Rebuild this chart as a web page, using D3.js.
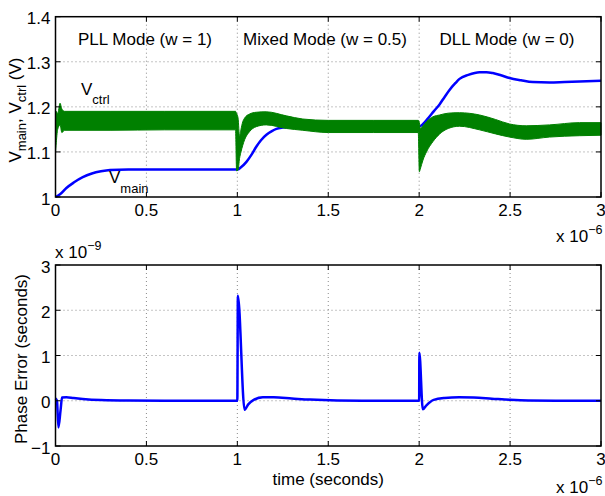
<!DOCTYPE html>
<html>
<head>
<meta charset="utf-8">
<script src="https://cdn.jsdelivr.net/npm/d3@7"></script>
<style>
body { margin: 0; background: #fff; }
svg text { font-family: "Liberation Sans", Arial, sans-serif; fill: #000; }
</style>
</head>
<body>
<div id="chart"></div>
<script>
// Time axis in units of 1e-6 s
const xTicks = [0, 0.5, 1, 1.5, 2, 2.5, 3];
const xTickLabels = ["0", "0.5", "1", "1.5", "2", "2.5", "3"];

// Top panel ticks (V)
const topTicks = [1, 1.1, 1.2, 1.3, 1.4];
const topTickLabels = ["1", "1.1", "1.2", "1.3", "1.4"];

// Bottom panel ticks (units of 1e-9 s)
const botTicks = [-1, 0, 1, 2, 3];
const botTickLabels = ["\u22121", "0", "1", "2", "3"];

const modeLabels = ["PLL Mode (w = 1)", "Mixed Mode (w = 0.5)", "DLL Mode (w = 0)"];

// V_main (blue)
const mainTime = [0, 0.025, 0.06, 0.1, 0.15, 0.2, 0.25, 0.3, 0.4, 0.5, 0.99, 1.0, 1.02, 1.05, 1.08, 1.105,
  1.13, 1.16, 1.19, 1.215, 1.25, 1.3, 1.4, 2.0, 2.01, 2.05, 2.08, 2.113, 2.14, 2.168, 2.2, 2.222, 2.27,
  2.332, 2.37, 2.405, 2.45, 2.497, 2.56, 2.625, 2.717, 2.8, 2.882, 3.0];
const vMain = [1.0, 1.006, 1.02, 1.032, 1.044, 1.052, 1.057, 1.060, 1.061, 1.061, 1.061, 1.061, 1.066, 1.078,
  1.095, 1.112, 1.126, 1.138, 1.146, 1.151, 1.154, 1.156, 1.156, 1.156, 1.158, 1.175, 1.19, 1.206, 1.222,
  1.238, 1.253, 1.262, 1.271, 1.277, 1.277, 1.275, 1.27, 1.264, 1.259, 1.255, 1.254, 1.255, 1.256, 1.258];

// V_ctrl (green) ripple envelope: upper and lower edge of the band
const ctrlTime = [0, 0.003, 0.012, 0.025, 0.035, 0.05, 0.3, 0.6, 0.99, 0.996, 1.004, 1.012, 1.02, 1.03,
  1.04, 1.067, 1.104, 1.159, 1.27, 1.36, 1.5, 1.75, 1.995, 2.001, 2.006, 2.021, 2.04, 2.076, 2.113, 2.16,
  2.222, 2.332, 2.42, 2.497, 2.589, 2.717, 2.882, 3.0];
const vCtrlHigh = [1.10, 1.19, 1.185, 1.208, 1.195, 1.19, 1.19, 1.19, 1.19, 1.185, 1.175, 1.135, 1.15, 1.167,
  1.175, 1.184, 1.188, 1.189, 1.18, 1.173, 1.17, 1.17, 1.17, 1.165, 1.152, 1.158, 1.167, 1.178, 1.182,
  1.186, 1.187, 1.182, 1.172, 1.162, 1.158, 1.16, 1.165, 1.165];
const vCtrlLow = [1.10, 1.115, 1.15, 1.16, 1.143, 1.148, 1.148, 1.149, 1.149, 1.058, 1.06, 1.085, 1.10, 1.115,
  1.127, 1.145, 1.156, 1.16, 1.152, 1.148, 1.143, 1.143, 1.143, 1.056, 1.062, 1.082, 1.10, 1.123, 1.14,
  1.152, 1.157, 1.149, 1.14, 1.133, 1.128, 1.133, 1.136, 1.137];

// Phase error (units of 1e-9 s)
const errTime = [0, 0.008, 0.016, 0.028, 0.036, 0.06, 0.1, 0.15, 0.25, 0.4, 0.6, 1.0, 1.003, 1.04, 1.06,
  1.09, 1.14, 1.2, 1.3, 1.4, 1.55, 1.7, 2.0, 2.001, 2.02, 2.04, 2.08, 2.14, 2.22, 2.3, 2.4, 2.5, 2.6, 2.75, 3.0];
const phaseErr = [0.05, 0, -0.59, -0.2, 0.07, 0.08, 0.06, 0.04, 0.015, 0.003, 0, 0, 2.32, -0.2, -0.08,
  0.02, 0.08, 0.075, 0.05, 0.025, 0.005, 0, 0, 1.06, -0.19, -0.1, 0.02, 0.06, 0.075, 0.07, 0.045, 0.02,
  0.005, 0, 0];

const width = 605;
const height = 496;
const left = 55.5, right = 601;
const fs = 17;

const svg = d3.select("#chart")
    .append("svg")
    .attr("width", width)
    .attr("height", height);

const x = d3.scaleLinear().domain([0, 3]).range([left, right]);
const yTop = d3.scaleLinear().domain([1, 1.4]).range([197, 16.7]);
const yBot = d3.scaleLinear().domain([-1, 3]).range([446, 265]);

// grid, box, inward ticks and tick labels in MATLAB style
function drawFrame(y, yTicks, yLabels) {
    const [y0, y1] = y.range();
    const g = svg.append("g").attr("class", "frame");
    const grid = svg.insert("g", ":first-child");

    grid.selectAll("line.gx")
        .data(xTicks.slice(1, -1))
        .join("line")
        .attr("x1", d => x(d)).attr("x2", d => x(d))
        .attr("y1", y1).attr("y2", y0)
        .attr("stroke", "#8a8a8a").attr("stroke-dasharray", "1,3");
    grid.selectAll("line.gy")
        .data(yTicks.slice(1, -1))
        .join("line")
        .attr("x1", left).attr("x2", right)
        .attr("y1", d => y(d)).attr("y2", d => y(d))
        .attr("stroke", "#8a8a8a").attr("stroke-dasharray", "1,3");

    g.append("rect")
        .attr("x", left).attr("y", y1)
        .attr("width", right - left).attr("height", y0 - y1)
        .attr("fill", "none").attr("stroke", "#000").attr("stroke-width", 1.5);

    const tl = 5;
    xTicks.forEach(t => {
        g.append("line").attr("x1", x(t)).attr("x2", x(t)).attr("y1", y0).attr("y2", y0 - tl).attr("stroke", "#000");
        g.append("line").attr("x1", x(t)).attr("x2", x(t)).attr("y1", y1).attr("y2", y1 + tl).attr("stroke", "#000");
    });
    yTicks.forEach(t => {
        g.append("line").attr("x1", left).attr("x2", left + tl).attr("y1", y(t)).attr("y2", y(t)).attr("stroke", "#000");
        g.append("line").attr("x1", right).attr("x2", right - tl).attr("y1", y(t)).attr("y2", y(t)).attr("stroke", "#000");
    });

    g.selectAll("text.xt")
        .data(xTicks)
        .join("text")
        .attr("x", d => x(d))
        .attr("y", y0 + 19)
        .attr("text-anchor", "middle")
        .attr("font-size", fs)
        .text((d, i) => xTickLabels[i]);

    g.selectAll("text.yt")
        .data(yTicks)
        .join("text")
        .attr("x", left - 5)
        .attr("y", d => y(d) + 7.5)
        .attr("text-anchor", "end")
        .attr("font-size", fs)
        .text((d, i) => yLabels[i]);
}

// exponent label "x 10^p"
function exponent(xPos, yPos, power) {
    const t = svg.append("text").attr("x", xPos).attr("y", yPos).attr("font-size", fs);
    t.append("tspan").text("x 10");
    t.append("tspan").attr("dy", -8).attr("font-size", 12.5).text(power);
}

// ---------- top panel ----------
drawFrame(yTop, topTicks, topTickLabels);

svg.append("path")
    .datum(mainTime.map((t, i) => [t, vMain[i]]))
    .attr("fill", "none")
    .attr("stroke", "#0000ff")
    .attr("stroke-width", 2.5)
    .attr("d", d3.line()
        .x(d => x(d[0]))
        .y(d => yTop(d[1]))
        .curve(d3.curveMonotoneX));

// V_ctrl drawn after V_main, so it covers it where they overlap
const ctrlData = ctrlTime.map((t, i) => ({ t, hi: vCtrlHigh[i], lo: vCtrlLow[i] }));
svg.append("path")
    .datum(ctrlData)
    .attr("fill", "#008000")
    .attr("stroke", "#008000")
    .attr("stroke-width", 1)
    .attr("d", d3.area()
        .x(d => x(d.t))
        .y0(d => yTop(d.lo))
        .y1(d => yTop(d.hi))
        .curve(d3.curveMonotoneX));

svg.selectAll("text.mode")
    .data(modeLabels)
    .join("text")
    .attr("class", "mode")
    .attr("x", (d, i) => [145, 325, 507][i])
    .attr("y", 45)
    .attr("text-anchor", "middle")
    .attr("font-size", fs)
    .text(d => d);

const vc = svg.append("text").attr("x", 81).attr("y", 95).attr("font-size", fs);
vc.append("tspan").text("V");
vc.append("tspan").attr("dy", 9).attr("font-size", 13).text("ctrl");

const vm = svg.append("text").attr("x", 109).attr("y", 183).attr("font-size", fs);
vm.append("tspan").text("V");
vm.append("tspan").attr("dy", 10).attr("font-size", 13).text("main");

const yl1 = svg.append("text")
    .attr("transform", "translate(21,110) rotate(-90)")
    .attr("text-anchor", "middle")
    .attr("font-size", fs);
yl1.append("tspan").text("V");
yl1.append("tspan").attr("dy", 5).attr("font-size", 13).text("main");
yl1.append("tspan").attr("dy", -5).text(", V");
yl1.append("tspan").attr("dy", 5).attr("font-size", 13).text("ctrl");
yl1.append("tspan").attr("dy", -5).text(" (V)");

exponent(556, 242, "\u22126");

// ---------- bottom panel ----------
drawFrame(yBot, botTicks, botTickLabels);

svg.append("path")
    .datum(errTime.map((t, i) => [t, phaseErr[i]]))
    .attr("fill", "none")
    .attr("stroke", "#0000ff")
    .attr("stroke-width", 2.5)
    .attr("d", d3.line()
        .x(d => x(d[0]))
        .y(d => yBot(d[1]))
        .curve(d3.curveMonotoneX));

// keep frames above the data
svg.selectAll("g.frame").raise();

svg.append("text")
    .attr("transform", "translate(27,359) rotate(-90)")
    .attr("text-anchor", "middle")
    .attr("font-size", fs)
    .text("Phase Error (seconds)");

svg.append("text")
    .attr("x", (left + right) / 2)
    .attr("y", 485)
    .attr("text-anchor", "middle")
    .attr("font-size", fs)
    .text("time (seconds)");

exponent(55, 258, "\u22129");
exponent(556, 493, "\u22126");
</script>
</body>
</html>
